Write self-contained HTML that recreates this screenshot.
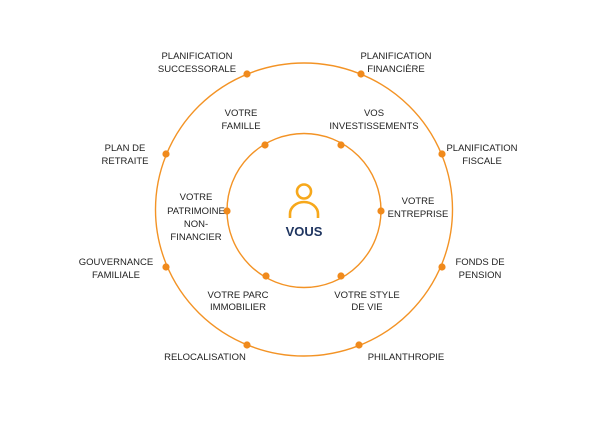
<!DOCTYPE html>
<html><head><meta charset="utf-8"><style>
html,body{margin:0;padding:0;background:#fff;}
svg{display:block;}
text{font-family:"Liberation Sans",Arial,sans-serif;font-size:9.5px;fill:#222;text-anchor:middle;}
</style></head><body>
<svg width="600" height="427" viewBox="0 0 600 427">
<g fill="none" stroke="#f39325" stroke-width="1.4">
<ellipse cx="304" cy="209.5" rx="148.5" ry="146.5"/>
<circle cx="304" cy="210.5" r="77"/>
</g>
<g fill="#f08a1c">
<circle cx="247" cy="74" r="3.6"/><circle cx="361" cy="74" r="3.6"/>
<circle cx="166" cy="154" r="3.6"/><circle cx="442" cy="154" r="3.6"/>
<circle cx="166" cy="267" r="3.6"/><circle cx="442" cy="267" r="3.6"/>
<circle cx="247" cy="345" r="3.6"/><circle cx="359" cy="345" r="3.6"/>
<circle cx="265" cy="145" r="3.6"/><circle cx="341" cy="145" r="3.6"/>
<circle cx="227" cy="211" r="3.6"/><circle cx="381" cy="211" r="3.6"/>
<circle cx="266" cy="276" r="3.6"/><circle cx="341" cy="276" r="3.6"/>
</g>
<g fill="none" stroke="#f7a81b" stroke-width="2.6">
<circle cx="304" cy="191.5" r="7"/>
<path d="M290 218 V214 a14 12 0 0 1 28 0 V218"/>
</g>
<text x="304" y="236" style="font-size:13px;font-weight:bold;fill:#1f3560">VOUS</text>
<text x="197" y="59">PLANIFICATION</text><text x="197" y="72">SUCCESSORALE</text>
<text x="396" y="59">PLANIFICATION</text><text x="396" y="72">FINANCIÈRE</text>
<text x="241" y="116">VOTRE</text><text x="241" y="129">FAMILLE</text>
<text x="374" y="116">VOS</text><text x="374" y="129">INVESTISSEMENTS</text>
<text x="125" y="151">PLAN DE</text><text x="125" y="164">RETRAITE</text>
<text x="482" y="151">PLANIFICATION</text><text x="482" y="164">FISCALE</text>
<text x="196" y="200">VOTRE</text><text x="196" y="214">PATRIMOINE</text><text x="196" y="227">NON-</text><text x="196" y="240">FINANCIER</text>
<text x="418" y="204">VOTRE</text><text x="418" y="217">ENTREPRISE</text>
<text x="116" y="265">GOUVERNANCE</text><text x="116" y="278">FAMILIALE</text>
<text x="480" y="265">FONDS DE</text><text x="480" y="278">PENSION</text>
<text x="238" y="298">VOTRE PARC</text><text x="238" y="310">IMMOBILIER</text>
<text x="367" y="298">VOTRE STYLE</text><text x="367" y="310">DE VIE</text>
<text x="205" y="360">RELOCALISATION</text>
<text x="406" y="360">PHILANTHROPIE</text>
</svg>
</body></html>
